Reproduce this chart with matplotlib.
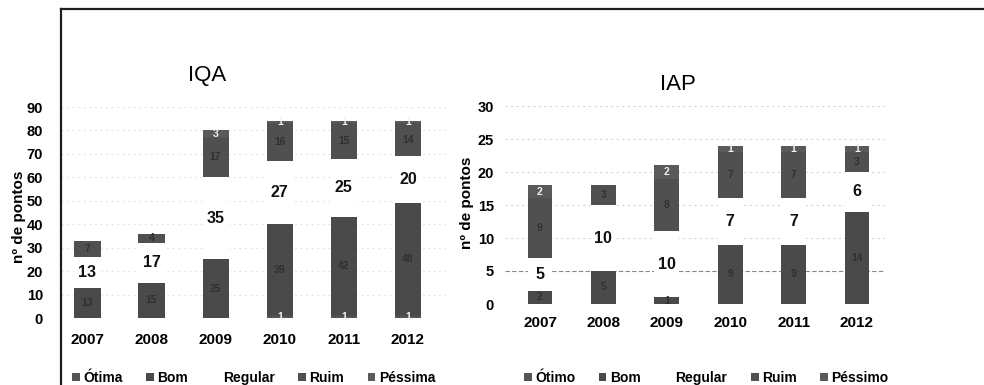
import matplotlib
matplotlib.use("Agg")
import matplotlib.pyplot as plt
import numpy as np
from matplotlib.lines import Line2D
from matplotlib.patches import Patch

# ---- data -------------------------------------------------------------
years = ["2007", "2008", "2009", "2010", "2011", "2012"]

iqa_otima = [0, 0, 0, 1, 1, 1]
iqa_bom = [13, 15, 25, 39, 42, 48]
iqa_regular = [13, 17, 35, 27, 25, 20]
iqa_ruim = [7, 4, 17, 16, 15, 14]
iqa_pessima = [0, 0, 3, 1, 1, 1]

iap_otimo = [0, 0, 0, 0, 0, 0]
iap_bom = [2, 5, 1, 9, 9, 14]
iap_regular = [5, 10, 10, 7, 7, 6]
iap_ruim = [9, 3, 8, 7, 7, 3]
iap_pessimo = [2, 0, 2, 1, 1, 1]

iqa_names = ["Ótima", "Bom", "Regular", "Ruim", "Péssima"]
iap_names = ["Ótimo", "Bom", "Regular", "Ruim", "Péssimo"]

# ---- style ------------------------------------------------------------
colors = ["#555555", "#4a4a4a", "#ffffff", "#505050", "#5a5a5a"]
inner_colors = ["#f2f2f2", "#303030", "#111111", "#303030", "#f2f2f2"]
FONT = ["Liberation Sans", "DejaVu Sans"]

W, H = 984, 385
fig = plt.figure(figsize=(W / 100, H / 100), dpi=100)
fig.patch.set_facecolor("white")


def axes_px(left, top, right, bottom):
    return fig.add_axes([left / W, 1 - bottom / H, (right - left) / W, (bottom - top) / H])


def stacked(ax, series, width, xlim, ylim, yticks, grid_color, year_pad, tick_pad):
    x = np.arange(len(years))
    base = np.zeros(len(years))
    for i, vals in enumerate(series):
        vals = np.asarray(vals, dtype=float)
        ax.bar(x, vals, width, bottom=base, color=colors[i], edgecolor="none", zorder=2)
        for xi, b, v in zip(x, base, vals):
            if v <= 0:
                continue
            big = i == 2
            ax.text(xi, b + v / 2, f"{int(v)}", ha="center", va="center",
                    fontsize=11.5 if big else 7.5, fontweight="bold", family=FONT,
                    color=inner_colors[i], zorder=3)
        base += vals
    ax.set_xlim(*xlim)
    ax.set_ylim(*ylim)
    ax.set_yticks(yticks)
    ax.set_xticks(x)
    ax.set_xticklabels(years)
    for s in ax.spines.values():
        s.set_visible(False)
    ax.tick_params(axis="x", length=0, pad=year_pad)
    ax.tick_params(axis="y", length=0, pad=tick_pad)
    for lab in ax.get_xticklabels():
        lab.set_fontsize(11)
        lab.set_fontweight("bold")
        lab.set_family(FONT)
    for lab in ax.get_yticklabels():
        lab.set_fontsize(10.5)
        lab.set_fontweight("bold")
        lab.set_family(FONT)
    ax.set_axisbelow(True)
    ax.yaxis.grid(True, color=grid_color, linestyle=(0, (2, 3)), linewidth=0.8)
    ax.patch.set_alpha(0)


# ---- IQA --------------------------------------------------------------
ax1 = axes_px(61, 107, 446, 318)
stacked(ax1, [iqa_otima, iqa_bom, iqa_regular, iqa_ruim, iqa_pessima],
        0.41, (-0.413, 5.593), (0, 90), np.arange(0, 91, 10), "#e6e6e6",
        year_pad=11, tick_pad=13)

# ---- IAP --------------------------------------------------------------
ax2 = axes_px(505, 106, 885, 304)
stacked(ax2, [iap_otimo, iap_bom, iap_regular, iap_ruim, iap_pessimo],
        0.39, (-0.552, 5.442), (0, 30), np.arange(0, 31, 5), "#d4d4d4",
        year_pad=8.5, tick_pad=8)
for gl, val in zip(ax2.get_ygridlines(), np.arange(0, 31, 5)):
    if val == 5:
        gl.set_color("#8a8a8a")
        gl.set_linestyle((0, (4, 2)))
    if val == 0:
        gl.set_visible(False)

# ---- titles and axis labels --------------------------------------------
fig.text(207 / W, 1 - 75 / H, "IQA", ha="center", va="center", fontsize=16, family=FONT)
fig.text(678 / W, 1 - 85 / H, "IAP", ha="center", va="center", fontsize=16, family=FONT)
fig.text(19 / W, 1 - 217 / H, "nº de pontos", rotation=90, ha="center", va="center",
         fontsize=11, fontweight="bold", family=FONT)
fig.text(467 / W, 1 - 203 / H, "nº de pontos", rotation=90, ha="center", va="center",
         fontsize=11, fontweight="bold", family=FONT)

# ---- legends ----------------------------------------------------------
def legend_at(names, x0):
    handles = [Patch(facecolor=c, edgecolor="none") for c in colors]
    return fig.legend(handles, names, ncol=5, loc="center left",
                      bbox_to_anchor=(x0 / W, 1 - 378 / H), frameon=False,
                      handlelength=0.55, handleheight=0.55, handletextpad=0.25,
                      columnspacing=1.7, borderpad=0, borderaxespad=0,
                      prop={"family": FONT, "weight": "bold", "size": 10})

legend_at(iqa_names, 72)
legend_at(iap_names, 524)

# ---- frame ------------------------------------------------------------
fig.add_artist(Line2D([61 / W, 61 / W], [0, 1 - 9 / H], color="#1e1e1e", lw=1.6))
fig.add_artist(Line2D([61 / W, 1], [1 - 9 / H, 1 - 9 / H], color="#1e1e1e", lw=1.6))

fig.savefig("out.png", dpi=100)
